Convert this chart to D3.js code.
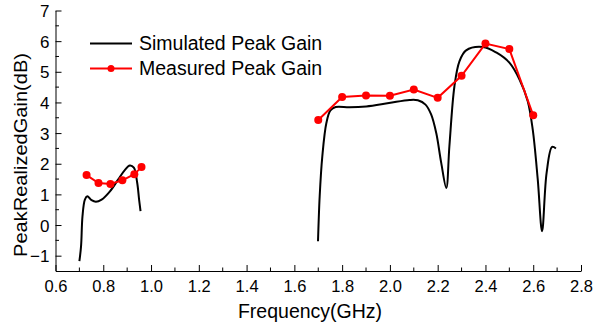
<!DOCTYPE html>
<html>
<head>
<meta charset="utf-8">
<script src="https://cdn.jsdelivr.net/npm/d3@7"></script>
<style>
  body { margin: 0; background: #fff; }
  svg { font-family: "Liberation Sans", Arial, sans-serif; }
</style>
</head>
<body>
<svg id="chart" width="594" height="326"></svg>
<script>
// simulated peak gain, two bands
var simLowFreq = [0.700, 0.707, 0.713, 0.723, 0.733, 0.751, 0.769, 0.793, 0.828, 0.862, 0.890, 0.911, 0.928, 0.942, 0.950, 0.956];
var simLowGain = [-1.18, -0.69, 0.29, 0.83, 0.94, 0.81, 0.76, 0.83, 1.10, 1.48, 1.79, 1.94, 1.87, 1.38, 0.83, 0.45];
var simHighFreq = [1.699, 1.706, 1.717, 1.734, 1.751, 1.773, 1.831, 1.901, 1.996, 2.082, 2.117, 2.149, 2.173, 2.194, 2.215, 2.236,
  2.249, 2.270, 2.291, 2.319, 2.389, 2.445, 2.501, 2.543, 2.577, 2.598, 2.619, 2.637, 2.656, 2.679, 2.695];
var simHighGain = [-0.53, 0.94, 2.24, 3.33, 3.74, 3.85, 3.84, 3.87, 3.98, 4.08, 4.07, 3.93, 3.60, 3.00, 2.02, 1.21,
  2.57, 4.52, 5.34, 5.70, 5.81, 5.63, 5.29, 4.74, 4.04, 3.11, 1.48, -0.20, 1.70, 2.55, 2.50];

// measured peak gain
var measLowFreq = [0.73, 0.78, 0.83, 0.88, 0.93, 0.96];
var measLowGain = [1.63, 1.37, 1.34, 1.46, 1.66, 1.89];
var measHighFreq = [1.7, 1.8, 1.9, 2.0, 2.1, 2.2, 2.3, 2.4, 2.5, 2.6];
var measHighGain = [3.43, 4.18, 4.23, 4.22, 4.42, 4.15, 4.87, 5.92, 5.74, 3.58];

var xTicks = [0.6, 0.8, 1.0, 1.2, 1.4, 1.6, 1.8, 2.0, 2.2, 2.4, 2.6, 2.8];
var yTicks = [-1, 0, 1, 2, 3, 4, 5, 6, 7];

var svg = d3.select("#chart");
var x = d3.scaleLinear().domain([0.6, 2.8]).range([55.5, 581]);
var y = d3.scaleLinear().domain([-1.5, 7]).range([271, 10.5]);

function zip(f, g){
	return f.map(function(v, i){ return [v, g[i]]; });
}

// axes
var xAxis = svg.append("g").attr("transform", "translate(0,271)")
	.call(d3.axisBottom(x).tickValues(xTicks).tickFormat(d3.format(".1f")).tickSizeInner(-6).tickSizeOuter(0).tickPadding(9));
xAxis.append("g").selectAll("line")
	.data(d3.range(0.7, 2.8, 0.2))
	.enter().append("line")
	.attr("x1", function(d){ return x(d); }).attr("x2", function(d){ return x(d); })
	.attr("y1", 0).attr("y2", -3.5).attr("stroke", "#000");

var yAxis = svg.append("g").attr("transform", "translate(55.5,0)")
	.call(d3.axisLeft(y).tickValues(yTicks).tickFormat(d3.format("d")).tickSizeInner(-6).tickSizeOuter(0).tickPadding(6));
yAxis.append("g").selectAll("line")
	.data(d3.range(-0.5, 7, 1))
	.enter().append("line")
	.attr("y1", function(d){ return y(d); }).attr("y2", function(d){ return y(d); })
	.attr("x1", 0).attr("x2", 3.5).attr("stroke", "#000");

svg.selectAll(".domain").attr("stroke", "#000");
svg.selectAll(".tick text").attr("fill", "#000");
xAxis.selectAll(".tick text").style("font-size", "16.5px");
yAxis.selectAll(".tick text").style("font-size", "17px").attr("dy", "0.36em");

svg.append("text").attr("x", 310).attr("y", 318).attr("text-anchor", "middle")
	.style("font-size", "19.5px").text("Frequency(GHz)");
svg.append("text").attr("transform", "translate(27,155) rotate(-90)").attr("text-anchor", "middle")
	.attr("textLength", 204).attr("lengthAdjust", "spacingAndGlyphs")
	.style("font-size", "19px").text("PeakRealizedGain(dB)");

// lines
var smooth = d3.line().x(function(d){ return x(d[0]); }).y(function(d){ return y(d[1]); }).curve(d3.curveCatmullRom);
var straight = d3.line().x(function(d){ return x(d[0]); }).y(function(d){ return y(d[1]); });

[zip(simLowFreq, simLowGain), zip(simHighFreq, simHighGain)].forEach(function(s){
	svg.append("path").datum(s).attr("d", smooth)
		.attr("fill", "none").attr("stroke", "#000").attr("stroke-width", 2);
});

[zip(measLowFreq, measLowGain), zip(measHighFreq, measHighGain)].forEach(function(s){
	svg.append("path").datum(s).attr("d", straight)
		.attr("fill", "none").attr("stroke", "#ff0000").attr("stroke-width", 2);
	svg.append("g").selectAll("circle").data(s).enter().append("circle")
		.attr("cx", function(d){ return x(d[0]); }).attr("cy", function(d){ return y(d[1]); })
		.attr("r", 4).attr("fill", "#ff0000");
});

// legend
svg.append("line").attr("x1", 90).attr("x2", 132).attr("y1", 43.5).attr("y2", 43.5).attr("stroke", "#000").attr("stroke-width", 2);
svg.append("line").attr("x1", 90).attr("x2", 132).attr("y1", 68.5).attr("y2", 68.5).attr("stroke", "#ff0000").attr("stroke-width", 2);
svg.append("circle").attr("cx", 111).attr("cy", 68.5).attr("r", 3.5).attr("fill", "#ff0000");
svg.append("text").attr("x", 139).attr("y", 50).style("font-size", "19.5px").text("Simulated Peak Gain");
svg.append("text").attr("x", 139).attr("y", 75).style("font-size", "19.5px").text("Measured Peak Gain");
</script>
</body>
</html>
